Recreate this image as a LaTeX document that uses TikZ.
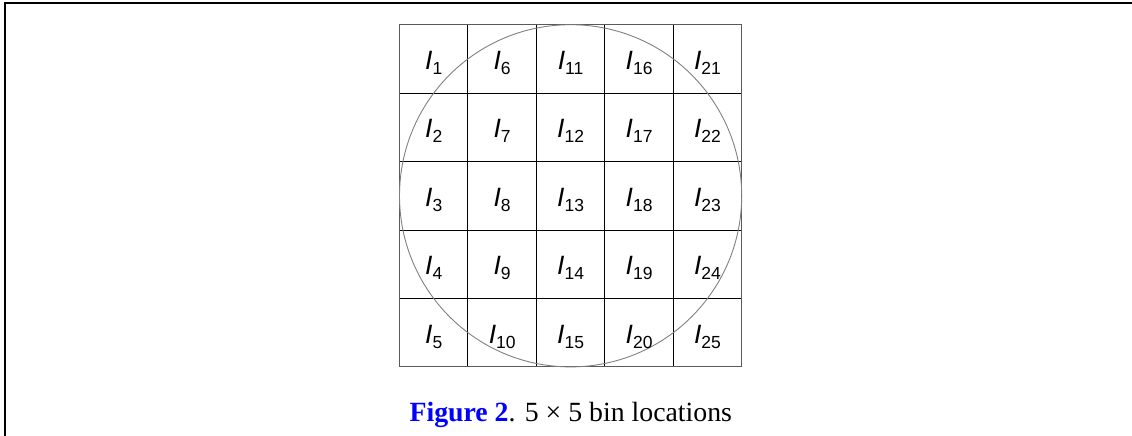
\documentclass[tikz,border=0pt]{standalone}
\usepackage{fontspec}
\setmainfont{Liberation Sans}
\newfontfamily\capfont{Liberation Serif}
\definecolor{capblue}{RGB}{0,0,255}
\definecolor{ringgray}{RGB}{128,128,128}
\definecolor{bordgray}{RGB}{90,90,90}
\newcommand{\binlabel}[1]{\textit{I}\raisebox{-5pt}{\fontsize{17.5}{20}\selectfont #1}}

\begin{document}
\begin{tikzpicture}[x=1pt, y=1pt,
    every node/.style={inner sep=0pt},
    binlbl/.style={anchor=base, font=\fontsize{26.5}{30}\selectfont},
    binline/.style={line width=1pt, black},
    bordline/.style={line width=1pt, bordgray},
    ringline/.style={line width=0.9pt, ringgray}]
  \useasboundingbox (0,0) rectangle (1132,436);

  % frame
  \draw[line width=1.8pt] (5,0) -- (5,433) -- (1132,433);

  % grid of bins
  \foreach \k in {1,...,4} {
    \draw[binline] ({399.5+68.45*\k},69.05) -- ++(0,342.25);
    \draw[binline] (399.5,{69.05+68.45*\k}) -- ++(342.25,0);
  }
  \draw[bordline] (399.5,69.05) rectangle ++(342.25,342.25);

  % circle
  \draw[ringline] (570.6,240.2) circle (171.1);

  % labels
  \foreach \i in {0,...,4} {
    \foreach \j in {0,...,4} {
      \pgfmathtruncatemacro{\n}{5*\i+\j+1}
      \node[binlbl] (bin\n) at ({399.5+68.45*(\i+0.5)}, {411.3-68.45*(\j+0.5)-10.5}) {\binlabel{\n}};
    }
  }

  \node[anchor=base] (caption) at (570.8,14.3)
    {\capfont\fontsize{27.8}{32}\selectfont\textcolor{capblue}{\bfseries Figure 2}. 5 × 5 bin locations};
\end{tikzpicture}
\end{document}
